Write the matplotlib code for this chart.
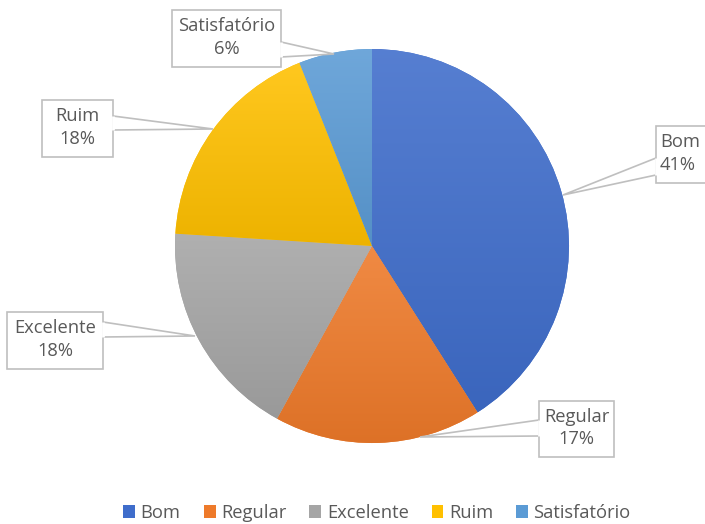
import numpy as np
import matplotlib
matplotlib.use("Agg")
import matplotlib.pyplot as plt
from matplotlib.patches import Polygon, Rectangle
from matplotlib.colors import to_rgb

labels = ["Bom", "Regular", "Excelente", "Ruim", "Satisfatório"]
values = [41, 17, 18, 18, 6]
colors = ["#3F6DCB", "#EE7A2A", "#A5A5A5", "#FFC000", "#5B9BD5"]

plt.rcParams['font.family'] = ['Open Sans', 'DejaVu Sans']
W, H = 705, 524
fig = plt.figure(figsize=(W / 100, H / 100), dpi=100)
ax = fig.add_axes([0, 0, 1, 1])

cx, cy, R = 372, H - 246, 197
wedges, _ = ax.pie(values, colors=colors, startangle=90, counterclock=False,
                   center=(cx, cy), radius=R, frame=True,
                   wedgeprops=dict(linewidth=0))
ax.set_aspect('auto')
ax.axis('off')

# vertical gradient on each slice, lighter on top
def shade(c, f):
    c = np.array(to_rgb(c))
    if f > 0:
        return c + (1 - c) * f
    return c * (1 + f)

for w, c in zip(wedges, colors):
    v = ax.transData.inverted().transform(w.get_verts())
    x0, x1 = v[:, 0].min(), v[:, 0].max()
    y0, y1 = v[:, 1].min(), v[:, 1].max()
    top, bot = shade(c, 0.12), shade(c, -0.07)
    t = np.linspace(0, 1, 64)[:, None]
    img = top[None, :] * (1 - t) + bot[None, :] * t
    im = ax.imshow(img[:, None, :], extent=(x0, x1, y0, y1), origin='upper',
                   aspect='auto', zorder=2, interpolation='bilinear')
    im.set_clip_path(w)
ax.set_xlim(0, W)
ax.set_ylim(0, H)

# callout boxes: (x0, y0, x1, y1) box in pixels, pointer base points, tip
callouts = [
    ((656, 126, 720, 183), [(656, 158), (656, 175)], (563, 195)),
    ((539, 401, 614, 457), [(539, 420), (539, 436)], (420, 437)),
    ((7, 312, 103, 369), [(103, 322), (103, 337)], (195, 336)),
    ((42, 100, 113, 157), [(113, 116), (113, 130)], (213, 129)),
    ((172, 10, 281, 67), [(281, 42), (281, 57)], (334, 54)),
]
edge = "#BFBFBF"
for (box, base, tip), name, val in zip(callouts, labels, values):
    bx0, by0, bx1, by1 = box
    pts = [(tip[0], H - tip[1]), (base[0][0], H - base[0][1]),
           (base[1][0], H - base[1][1])]
    ax.add_patch(Polygon(pts, closed=True, facecolor='white', edgecolor=edge,
                         linewidth=1.2, zorder=4))
    ax.add_patch(Rectangle((bx0, H - by1), bx1 - bx0, by1 - by0,
                           facecolor='white', edgecolor=edge, linewidth=1.2,
                           zorder=5))
    ax.plot([base[0][0], base[1][0]], [H - base[0][1], H - base[1][1]],
            color='white', lw=2, zorder=6, solid_capstyle='butt')
    tx = (bx0 + bx1) / 2 if bx1 <= W else bx0 + 4
    ha = 'center' if bx1 <= W else 'left'
    ax.text(tx, H - (by0 + by1) / 2 + 1, f"{name}\n{val}%", ha=ha, va='center',
            fontsize=13.2, color='#595959', linespacing=1.35, zorder=7)

leg = fig.legend(wedges, labels, loc='center', bbox_to_anchor=(377 / W, 1 - 513 / H),
                 ncol=5, frameon=False, fontsize=13.2, handlelength=0.65,
                 handleheight=0.65, handletextpad=0.3, columnspacing=1.25,
                 labelcolor='#595959')

fig.savefig("out.png", dpi=100)
